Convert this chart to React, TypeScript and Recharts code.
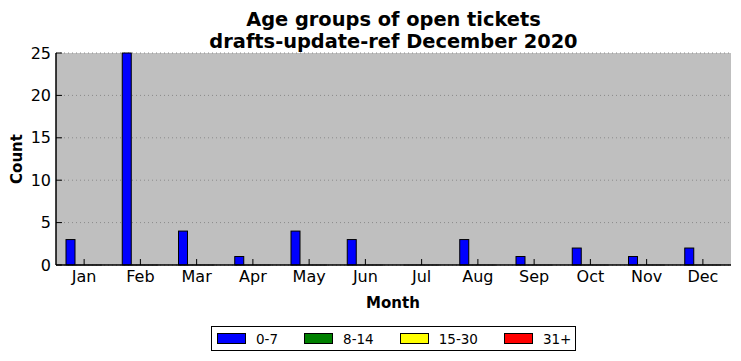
import React from 'react';
import { BarChart, Bar, XAxis, YAxis, CartesianGrid, Legend } from 'recharts';

const months = ['Jan', 'Feb', 'Mar', 'Apr', 'May', 'Jun', 'Jul', 'Aug', 'Sep', 'Oct', 'Nov', 'Dec'];
const age0to7 = [3, 25, 4, 1, 4, 3, 0, 3, 1, 2, 1, 2];
const age8to14 = [0, 0, 0, 0, 0, 0, 0, 0, 0, 0, 0, 0];
const age15to30 = [0, 0, 0, 0, 0, 0, 0, 0, 0, 0, 0, 0];
const age31plus = [0, 0, 0, 0, 0, 0, 0, 0, 0, 0, 0, 0];
const yTicks = [0, 5, 10, 15, 20, 25];

const seriesDefs = [
  { key: 'a', name: '0-7', color: '#0000ff', values: age0to7 },
  { key: 'b', name: '8-14', color: '#008000', values: age8to14 },
  { key: 'c', name: '15-30', color: '#ffff00', values: age15to30 },
  { key: 'd', name: '31+', color: '#ff0000', values: age31plus },
];

const data = months.map((m, i) => {
  const row: any = { month: m };
  seriesDefs.forEach((s) => (row[s.key] = s.values[i]));
  return row;
});

const FONT = '"DejaVu Sans", sans-serif';

const BarShape = (props: any) => {
  const { x, y, width, height, fill } = props;
  if (!height || Math.abs(height) < 0.01) {
    return <line x1={x} x2={x + width} y1={y} y2={y} stroke="#555" strokeWidth={1} />;
  }
  return <rect x={x} y={y} width={width} height={height} fill={fill} stroke="#000" strokeWidth={1} />;
};

const LegendContent = () => (
  <div
    style={{
      boxSizing: 'border-box',
      width: 365,
      height: 25,
      border: '1px solid #000',
      background: '#fff',
      display: 'flex',
      alignItems: 'center',
      paddingLeft: 5,
      fontFamily: FONT,
      fontSize: 13.5,
      color: '#000',
    }}
  >
    {seriesDefs.map((s, i) => (
      <div key={s.key} style={{ display: 'flex', alignItems: 'center', marginRight: i < 3 ? 26 : 0 }}>
        <div style={{ width: 27, height: 9, background: s.color, border: '1px solid #000', marginRight: 10 }} />
        <span>{s.name}</span>
      </div>
    ))}
  </div>
);

export default function App() {
  return (
    <div style={{ position: 'absolute', left: 0, top: 0, width: 741, height: 361, background: '#fff', fontFamily: FONT }}>
      <div
        style={{
          position: 'absolute',
          left: 0,
          width: 787,
          top: 9,
          textAlign: 'center',
          fontWeight: 'bold',
          fontSize: 19.4,
          lineHeight: '22px',
          color: '#000',
        }}
      >
        <div>Age groups of open tickets</div>
        <div>drafts-update-ref December 2020</div>
      </div>
      <div
        style={{
          position: 'absolute',
          left: 393,
          top: 294,
          transform: 'translateX(-50%)',
          fontWeight: 'bold',
          fontSize: 15,
          color: '#000',
        }}
      >
        Month
      </div>
      <div
        style={{
          position: 'absolute',
          left: 17,
          top: 159,
          transform: 'translate(-50%, -50%) rotate(-90deg)',
          fontWeight: 'bold',
          fontSize: 15,
          color: '#000',
        }}
      >
        Count
      </div>
      <BarChart
        width={741}
        height={361}
        data={data}
        margin={{ top: 53, right: 10, left: 0, bottom: 41 }}
        barGap={0}
        barSize={9}
        style={{ position: 'absolute', left: 0, top: 0 }}
      >
        <CartesianGrid
          vertical={false}
          fill="#bfbfbf"
          stroke="#8a8a8a"
          strokeDasharray="1 3"
          xAxisId="b"
          yAxisId="l"
        />
        <XAxis
          xAxisId="b"
          dataKey="month"
          orientation="bottom"
          height={30}
          interval={0}
          tickSize={-6}
          tickMargin={12}
          axisLine={{ stroke: '#000', strokeWidth: 1.5 }}
          tickLine={{ stroke: '#000' }}
          tick={{ fill: '#000', fontSize: 16, fontFamily: FONT }}
        />
        <XAxis
          xAxisId="t"
          dataKey="month"
          orientation="top"
          height={0}
          interval={0}
          tickSize={-6}
          tick={false}
          axisLine={{ stroke: '#000', strokeWidth: 1.5 }}
          tickLine={{ stroke: '#000' }}
        />
        <YAxis
          yAxisId="l"
          orientation="left"
          width={56}
          domain={[0, 25]}
          ticks={yTicks}
          interval={0}
          tickSize={-6}
          tickMargin={11}
          axisLine={{ stroke: '#000', strokeWidth: 1.5 }}
          tickLine={{ stroke: '#000' }}
          tick={{ fill: '#000', fontSize: 16, fontFamily: FONT }}
        />
        <YAxis
          yAxisId="r"
          orientation="right"
          width={0}
          domain={[0, 25]}
          ticks={yTicks}
          interval={0}
          tickSize={-6}
          tick={false}
          axisLine={{ stroke: '#000', strokeWidth: 1.5 }}
          tickLine={{ stroke: '#000' }}
        />
        {seriesDefs.map((s) => (
          <Bar
            key={s.key}
            dataKey={s.key}
            name={s.name}
            fill={s.color}
            xAxisId="b"
            yAxisId="l"
            isAnimationActive={false}
            shape={BarShape}
          />
        ))}
        <Legend
          content={LegendContent}
          wrapperStyle={{ position: 'absolute', left: 211, top: 326, width: 365, height: 25, bottom: 'auto' }}
        />
      </BarChart>
    </div>
  );
}
